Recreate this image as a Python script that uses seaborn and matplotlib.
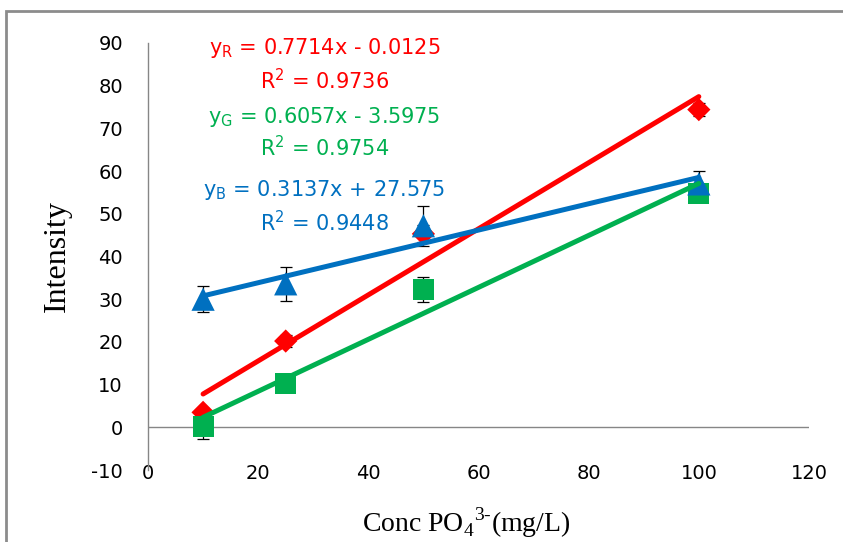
import numpy as np
import pandas as pd
import matplotlib
matplotlib.use("Agg")
import matplotlib.pyplot as plt
from matplotlib.lines import Line2D
import seaborn as sns

# ---- data ----
conc = [10, 25, 50, 100]
red_vals = [3.5, 20.2, 45.3, 74.4]
green_vals = [0.2, 10.3, 32.3, 54.8]
blue_vals = [30.0, 33.6, 47.2, 57.0]
red_err = [1.0, 1.5, 2.0, 1.5]
green_err = [3.0, 1.0, 3.0, 1.5]
blue_err = [3.0, 4.0, 4.7, 3.0]
series_names = ["R", "G", "B"]
eq_texts = [r"y$_\mathregular{R}$ = 0.7714x - 0.0125", r"y$_\mathregular{G}$ = 0.6057x - 3.5975",
            r"y$_\mathregular{B}$ = 0.3137x + 27.575"]
r2_texts = [r"R$^\mathregular{2}$ = 0.9736", r"R$^\mathregular{2}$ = 0.9754", r"R$^\mathregular{2}$ = 0.9448"]
x_ticks = [0, 20, 40, 60, 80, 100, 120]
y_ticks = [-10, 0, 10, 20, 30, 40, 50, 60, 70, 80, 90]

colors = {"R": "#FF0000", "G": "#00B050", "B": "#0070C0"}
markers = {"R": "D", "G": "s", "B": "^"}
msizes = {"R": 140, "G": 230, "B": 280}

df = pd.DataFrame({
    "conc": conc * 3,
    "intensity": red_vals + green_vals + blue_vals,
    "err": red_err + green_err + blue_err,
    "series": ["R"] * 4 + ["G"] * 4 + ["B"] * 4,
})

sns.set_theme(style="white")
plt.rcParams["font.family"] = ["DejaVu Sans"]
plt.rcParams["mathtext.fontset"] = "custom"
plt.rcParams["mathtext.rm"] = "Liberation Serif"
plt.rcParams["axes.unicode_minus"] = False

fig = plt.figure(figsize=(8.43, 5.42), dpi=100)
ax = fig.add_axes([148 / 843, (542 - 470) / 542, (809 - 148) / 843, (470 - 43) / 542])

# error bars
for s in series_names:
    sub = df[df.series == s]
    ax.errorbar(sub.conc, sub.intensity, yerr=sub.err, fmt="none", ecolor="black",
                elinewidth=0.9, capsize=4.5, capthick=0.9, zorder=2)

# markers
for s in series_names:
    sub = df[df.series == s]
    sns.scatterplot(data=sub, x="conc", y="intensity", marker=markers[s], s=msizes[s],
                    color=colors[s], edgecolor="none", linewidth=0, ax=ax, zorder=3, legend=False)

# trendlines
for s in series_names:
    sub = df[df.series == s]
    sns.regplot(data=sub, x="conc", y="intensity", scatter=False, ci=None, truncate=True, ax=ax,
                line_kws=dict(color=colors[s], lw=3.6, solid_capstyle="round", zorder=4))

# equations
eq_y = [88.8, 72.7, 55.5]
r2_y = [81.3, 65.4, 48.0]
for i, s in enumerate(series_names):
    ax.text(32, eq_y[i], eq_texts[i], color=colors[s], fontsize=15, ha="center", va="center", zorder=5)
    ax.text(32, r2_y[i], r2_texts[i], color=colors[s], fontsize=15, ha="center", va="center", zorder=5)

ax.axhline(0, color="#868686", lw=1.0, zorder=1)
ax.set_xlim(0, 120)
ax.set_ylim(-10, 90)
ax.set_xticks(x_ticks)
ax.set_yticks(y_ticks)
ax.tick_params(axis="both", length=0, labelsize=14, colors="black", labelcolor="black")
ax.tick_params(axis="x", pad=-4)
ax.tick_params(axis="y", pad=18)
for sp in ["top", "right", "bottom"]:
    ax.spines[sp].set_visible(False)
ax.spines["left"].set_color("#868686")
ax.spines["left"].set_linewidth(1.0)
ax.grid(False)

ax.set_xlabel(r"Conc PO$_\mathregular{4}$$^\mathregular{3\text{-}}$(mg/L)", family="Liberation Serif",
              fontsize=20, color="black")
ax.set_ylabel("Intensity", family="Liberation Serif", fontsize=23, color="black")
ax.xaxis.set_label_coords((466 - 148) / 661, (470 - 505) / 427)
ax.yaxis.set_label_coords((72 - 148) / 661, 0.5)

# outer frame (top and left)
fig.add_artist(Line2D([6 / 843, 6 / 843, 1.05], [-0.05, 1 - 11 / 542, 1 - 11 / 542],
                      transform=fig.transFigure, color="#8c8c8c", lw=2.0,
                      solid_capstyle="butt", solid_joinstyle="miter"))

fig.savefig("out.png", dpi=100, facecolor="white")
